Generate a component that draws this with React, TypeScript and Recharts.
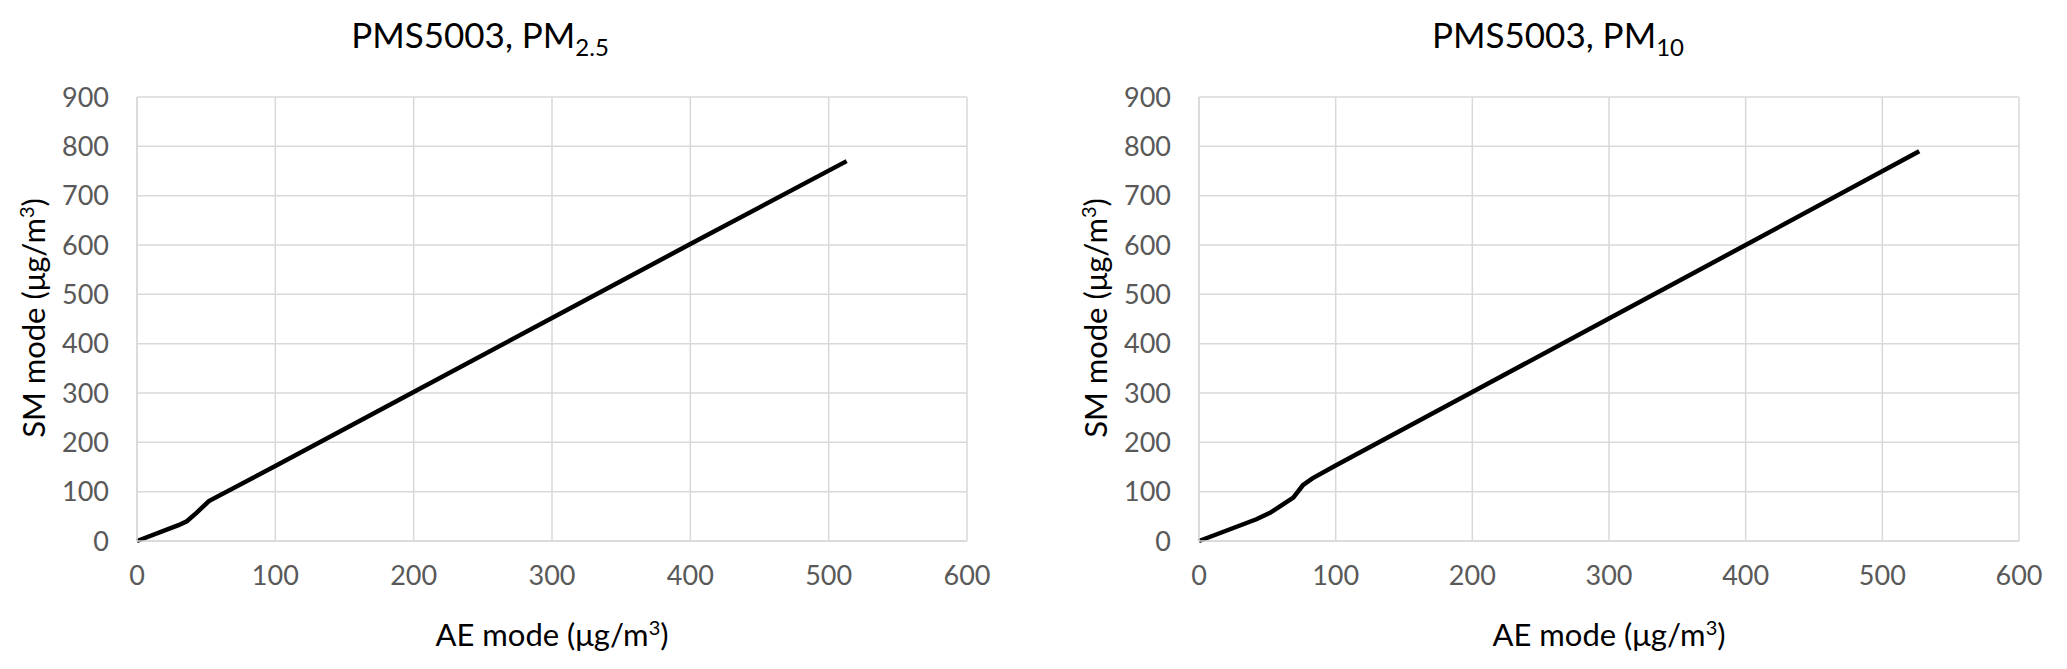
import React from "react"
import { LineChart, Line, XAxis, YAxis, CartesianGrid } from "recharts"

// AE mode vs SM mode readings
const pm25AE = [0, 30, 36, 43, 52, 100, 200, 300, 400, 513]
const pm25SM = [0, 32, 40, 57, 81, 152, 302, 452, 602, 770]

const pm10AE = [0, 42, 52, 69, 76, 83, 100, 200, 300, 400, 527]
const pm10SM = [0, 44, 57, 88, 113, 127, 153, 302, 451, 600, 790]

const xTicks = [0, 100, 200, 300, 400, 500, 600]
const yTicks = [0, 100, 200, 300, 400, 500, 600, 700, 800, 900]

const FONT = "Lato, 'Noto Sans', sans-serif"
const GRID = "#d9d9d9"
const TICK = "#595959"

const toRows = (ae: number[], sm: number[]) => ae.map((v, i) => ({ ae: v, sm: sm[i] }))

interface PanelProps {
  left: number
  width: number
  rows: { ae: number; sm: number }[]
  sub: string
  titleX: number
}

function Panel({ left, width, rows, sub, titleX }: PanelProps) {
  const margin = { top: 97, right: 33, bottom: 78, left: 77 }
  const plotLeft = margin.left + 60
  const plotRight = width - margin.right
  return (
    <div style={{ position: "absolute", left, top: 0, width, height: 669 }}>
      <LineChart width={width} height={669} data={rows} margin={margin}>
        <CartesianGrid stroke={GRID} strokeWidth={1.5} />
        <XAxis
          type="number"
          dataKey="ae"
          domain={[0, 600]}
          ticks={xTicks}
          height={50}
          axisLine={{ stroke: GRID, strokeWidth: 1.5 }}
          tickLine={false}
          tickMargin={19}
          tick={{ fill: TICK, fontSize: 27, fontFamily: FONT }}
        />
        <YAxis
          type="number"
          dataKey="sm"
          domain={[0, 900]}
          ticks={yTicks}
          width={60}
          axisLine={{ stroke: GRID, strokeWidth: 1.5 }}
          tickLine={false}
          tickMargin={22}
          tick={{ fill: TICK, fontSize: 27, fontFamily: FONT }}
        />
        <Line
          type="linear"
          dataKey="sm"
          stroke="#000"
          strokeWidth={4.5}
          dot={false}
          isAnimationActive={false}
        />
      </LineChart>
      <div
        style={{
          position: "absolute",
          left: titleX,
          top: 37,
          transform: "translate(-50%, -50%)",
          fontFamily: FONT,
          fontSize: 35,
          whiteSpace: "nowrap",
          color: "#000",
        }}
      >
        PMS5003, PM<sub style={{ fontSize: 24 }}>{sub}</sub>
      </div>
      <div
        style={{
          position: "absolute",
          left: (plotLeft + plotRight) / 2,
          top: 634,
          transform: "translate(-50%, -50%)",
          fontFamily: FONT,
          fontSize: 31,
          whiteSpace: "nowrap",
          color: "#000",
        }}
      >
        AE mode (μg/m<sup style={{ fontSize: 20 }}>3</sup>)
      </div>
      <div
        style={{
          position: "absolute",
          left: 33,
          top: 318,
          transform: "translate(-50%, -50%) rotate(-90deg)",
          fontFamily: FONT,
          fontSize: 31,
          whiteSpace: "nowrap",
          color: "#000",
        }}
      >
        SM mode (μg/m<sup style={{ fontSize: 20 }}>3</sup>)
      </div>
    </div>
  )
}

export default function App() {
  return (
    <div style={{ position: "absolute", left: 0, top: 0, width: 2067, height: 669, background: "#fff" }}>
      <Panel left={0} width={1000} rows={toRows(pm25AE, pm25SM)} sub="2.5" titleX={480} />
      <Panel left={1062} width={990} rows={toRows(pm10AE, pm10SM)} sub="10" titleX={496} />
    </div>
  )
}
